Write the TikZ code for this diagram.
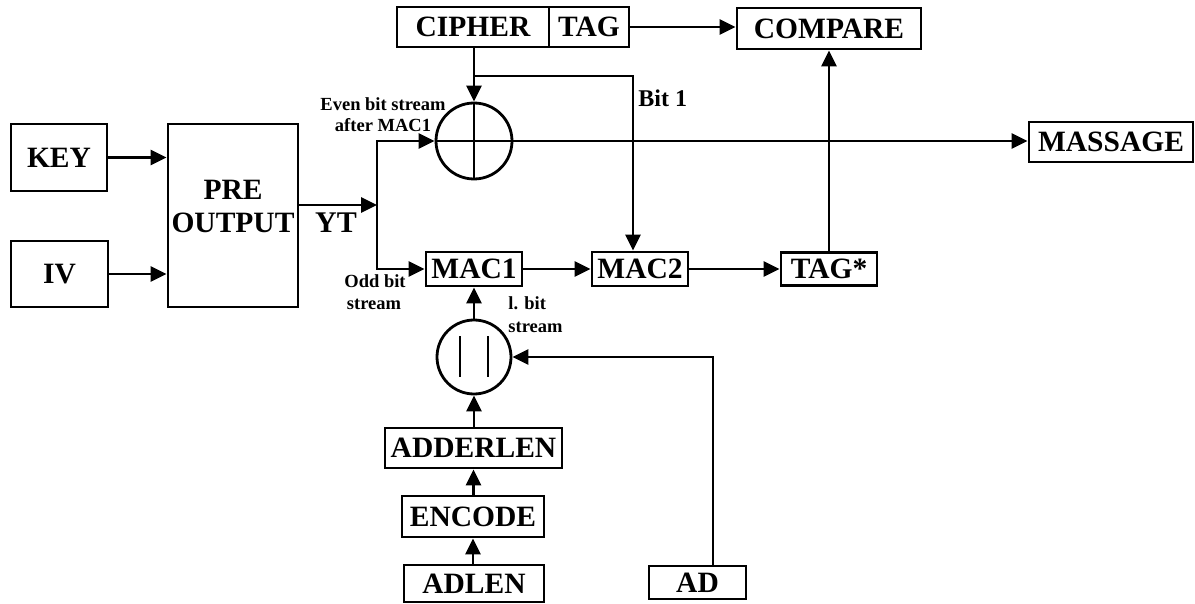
\documentclass[tikz,border=0pt]{standalone}
\usepackage{fontspec}
\setmainfont{Liberation Serif}
\usetikzlibrary{arrows.meta}
\begin{document}
\begin{tikzpicture}[x=1pt,y=-1pt,
  line width=2.8pt,
  box/.style={draw, rectangle, inner sep=0pt, font=\bfseries\fontsize{29.5}{30}\selectfont},
  ring/.style={draw, circle, inner sep=0pt},
  lbl/.style={inner sep=0pt, anchor=base, font=\bfseries\fontsize{18.5}{20}\selectfont},
  arr/.style={-{Triangle[length=16pt,width=15pt]}}]
\useasboundingbox (0,0) rectangle (1195,604);

% boxes
\node[box, minimum width=96, minimum height=67] (key) at (59,157.5) {KEY};
\node[box, minimum width=97, minimum height=66] (iv) at (59.5,274) {IV};
\node[box, minimum width=130, minimum height=183] (pre) at (233,215.5) {};
\node[inner sep=0pt, anchor=base, font=\bfseries\fontsize{29.5}{30}\selectfont] (pret1) at (233,200) {PRE};
\node[inner sep=0pt, anchor=base, font=\bfseries\fontsize{29.5}{30}\selectfont] (pret2) at (233,233) {OUTPUT};
\node[inner sep=0pt, anchor=base, font=\bfseries\fontsize{30}{30}\selectfont] (yt) at (336,233) {YT};

\node[box, minimum width=152, minimum height=40] (cipher) at (473,27) {CIPHER};
\node[box, minimum width=80, minimum height=40] (tag) at (589,27) {TAG};
\node[box, minimum width=184, minimum height=41] (compare) at (829,28.5) {COMPARE};
\node[box, minimum width=164, minimum height=40] (massage) at (1111,142) {MASSAGE};

\node[box, minimum width=96, minimum height=34] (mac1) at (474,269) {MAC1};
\node[box, minimum width=96, minimum height=34] (mac2) at (640,269) {MAC2};
\node[box, minimum width=96, minimum height=33] (tagstar) at (829,269) {TAG*};

\node[box, minimum width=177, minimum height=40] (adderlen) at (473.5,448) {ADDERLEN};
\node[box, minimum width=142, minimum height=41] (encode) at (473,516.5) {ENCODE};
\node[box, minimum width=140, minimum height=37] (adlen) at (474,583.5) {ADLEN};
\node[box, minimum width=97, minimum height=33] (ad) at (697.5,582.5) {AD};

% circles
\node[ring, minimum size=76] (xor) at (474,141) {};
\node[ring, minimum size=74] (cat) at (474,357) {};
\draw (xor.north) -- (xor.south);
\draw (xor.west) -- (xor.east);
\draw (460,336) -- (460,377);
\draw (488,336) -- (488,377);

% labels
\node[lbl] (ev1) at (383,111) {Even bit stream};
\node[lbl] (ev2) at (383,132) {after MAC1};
\node[lbl] (od1) at (375,288) {Odd bit};
\node[lbl] (od2) at (374,309) {stream};
\node[lbl, anchor=base west] (lb1) at (507,310) {l. bit};
\node[lbl, anchor=base west] (lb2) at (507,332) {stream};
\node[inner sep=0pt, anchor=base west, font=\bfseries\fontsize{24}{25}\selectfont] (bit1) at (637,107) {Bit 1};

% coordinates
\coordinate (j) at (377,205);
\coordinate (b1) at (474,76);
\coordinate (b2) at (633,76);
\coordinate (adc) at (713,357);

% connectors
\draw[arr] (key.east) -- (pre.west |- key.east);
\draw[arr] (iv.east) -- (pre.west |- iv.east);
\draw[arr] (pre.east |- j) -- (j);
\draw[arr] (j) |- (xor.west);
\draw[arr] (j) |- (mac1.west);
\draw[arr] (cipher.south -| xor.north) -- (xor.north);
\draw[arr] (b1) -- (b2) -- (b2 |- mac2.north);
\draw[arr] (xor.east) -- (massage.west |- xor.east);
\draw[arr] (tag.east) -- (compare.west |- tag.east);
\draw[arr] (mac1.east) -- (mac2.west);
\draw[arr] (mac2.east) -- (tagstar.west);
\draw[arr] (tagstar.north) -- (compare.south);
\draw[arr] (cat.north) -- (mac1.south);
\draw[arr] (adderlen.north -| cat.south) -- (cat.south);
\draw[arr] (encode.north -| adderlen.south) -- (adderlen.south);
\draw[arr] (adlen.north -| encode.south) -- (encode.south);
\draw[arr] (ad.north -| adc) -- (adc) -- (cat.east);
\end{tikzpicture}
\end{document}
